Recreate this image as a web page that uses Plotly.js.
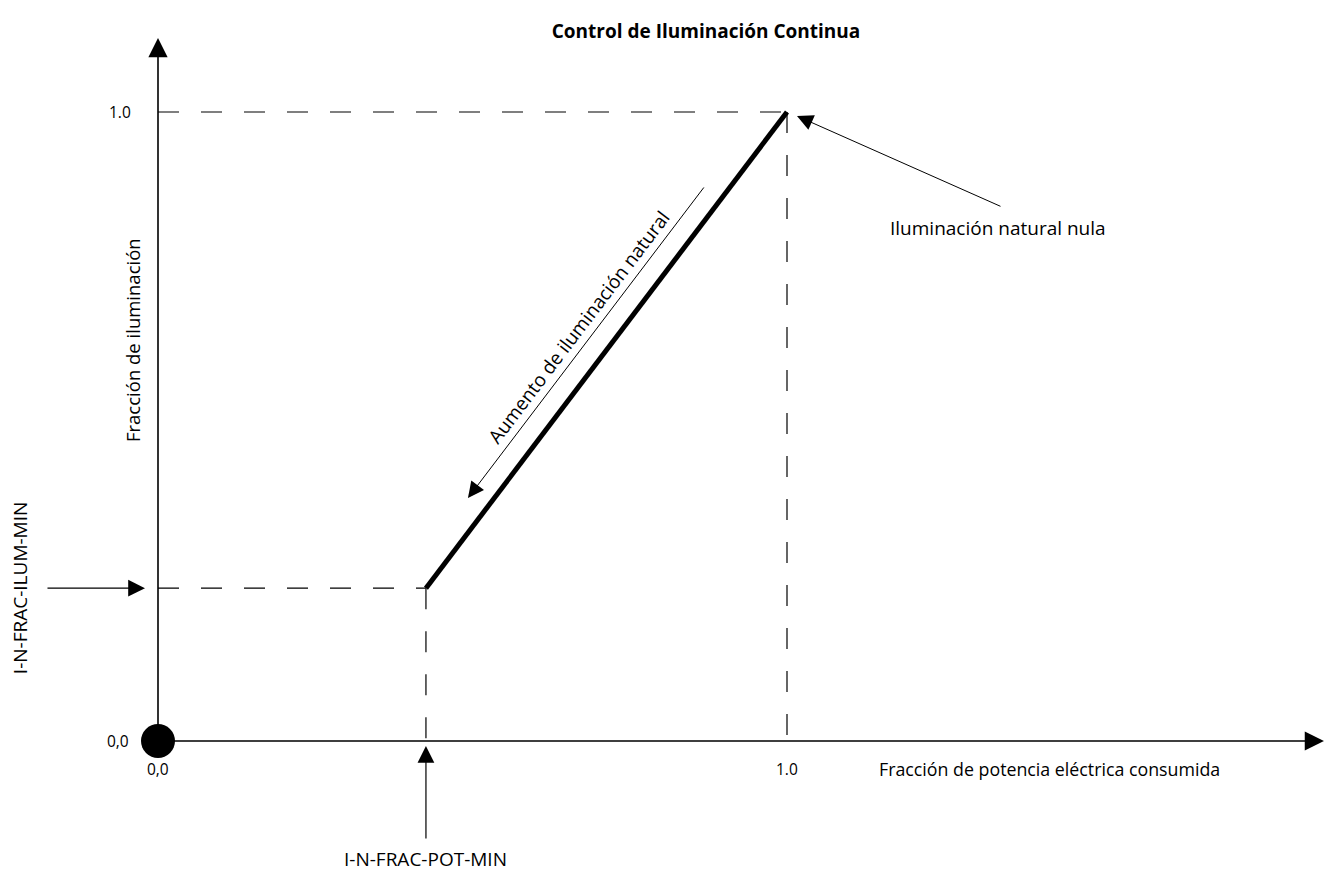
<!DOCTYPE html>
<html>
<head>
<meta charset="utf-8">
<script src="https://cdn.plot.ly/plotly-3.0.1.min.js"></script>
<style>html,body{margin:0;padding:0;background:#fff;}#chart{width:1326px;height:872px;}</style>
</head>
<body>
<div id="chart"></div>
<script>
// Data (fractions)
const potFracMin = 0.426;      // I-N-FRAC-POT-MIN
const ilumFracMin = 0.243;     // I-N-FRAC-ILUM-MIN
const potFracMax = 1.0;
const ilumFracMax = 1.0;
const controlX = [potFracMin, potFracMax];
const controlY = [ilumFracMin, ilumFracMax];
const originX = [0];
const originY = [0];
const tickLabelsY = ['1.0', '0,0'];
const tickLabelsX = ['0,0', '1.0'];

const FONT = 'Open Sans, Noto Sans, sans-serif';
const dashStyle = '21px,22px';

const traces = [
  {x:[0, potFracMax], y:[ilumFracMax, ilumFracMax], mode:'lines', line:{color:'#000', width:1.2, dash:dashStyle}, hoverinfo:'skip', cliponaxis:false},
  {x:[potFracMax, potFracMax], y:[ilumFracMax, 0], mode:'lines', line:{color:'#000', width:1.2, dash:dashStyle}, hoverinfo:'skip', cliponaxis:false},
  {x:[0, potFracMin], y:[ilumFracMin, ilumFracMin], mode:'lines', line:{color:'#000', width:1.2, dash:dashStyle}, hoverinfo:'skip', cliponaxis:false},
  {x:[potFracMin, potFracMin], y:[ilumFracMin, 0], mode:'lines', line:{color:'#000', width:1.2, dash:dashStyle}, hoverinfo:'skip', cliponaxis:false},
  {x:controlX, y:controlY, mode:'lines', line:{color:'#000', width:5}, hoverinfo:'skip', cliponaxis:false},
  {x:originX, y:originY, mode:'markers', marker:{color:'#000', size:34}, hoverinfo:'skip', cliponaxis:false}
];

function arrow(tx, ty, ax, ay, w, size) {
  return {x:tx, y:ty, ax:ax, ay:ay, xref:'x', yref:'y', axref:'x', ayref:'y',
    text:'', showarrow:true, arrowhead:2, arrowsize:size||2.6, arrowwidth:w||1.3, arrowcolor:'#000'};
}
function label(x, y, text, size, opts) {
  return Object.assign({x:x, y:y, xref:'x', yref:'y', text:text, showarrow:false, borderpad:0,
    font:{family:FONT, size:size, color:'#000'}}, opts||{});
}

const annotations = [
  arrow(0, 1.1177, 0, 0, 1.6, 2.4),
  arrow(1.8537, 0, 0, 0, 1.6, 2.4),
  arrow(0.4928, 0.3863, 0.8696, 0.8824, 1.0, 3.2),
  arrow(1.0159, 0.9936, 1.3418, 0.8490, 1.0, 3.2),
  arrow(-0.0207, ilumFracMin, -0.1781, ilumFracMin, 1.2, 2.8),
  arrow(potFracMin, -0.0079, potFracMin, -0.1574, 1.2, 2.8),
  label(0.6693, 0.6582, 'Aumento de iluminación natural', 19, {textangle:-52.8}),
  label(1.3355, 0.8156, 'Iluminación natural nula', 19),
  label(-0.0413, 0.6375, 'Fracción de iluminación', 18.5, {textangle:-90}),
  label(-0.2194, ilumFracMin, 'I-N-FRAC-ILUM-MIN', 19, {textangle:-90}),
  label(potFracMin, -0.1882, 'I-N-FRAC-POT-MIN', 19),
  label(1.4181, -0.0445, 'Fracción de potencia eléctrica consumida', 17.8),
  label(-0.0604, ilumFracMax, tickLabelsY[0], 15.5),
  label(-0.0636, 0, tickLabelsY[1], 15.5),
  label(0, -0.0445, tickLabelsX[0], 15.5),
  label(potFracMax, -0.0445, tickLabelsX[1], 15.5)
];

const layout = {
  width:1326, height:872,
  margin:{l:0, r:0, t:0, b:0},
  paper_bgcolor:'#fff', plot_bgcolor:'#fff',
  showlegend:false,
  title:{text:'<b>Control de Iluminación Continua</b>', x:706/1326, xanchor:'center', y:1-31/872, yanchor:'middle',
    font:{family:FONT, size:19, color:'#000'}},
  xaxis:{range:[-158/629, 1168/629], visible:false, fixedrange:true},
  yaxis:{range:[-131/629, 741/629], visible:false, fixedrange:true},
  annotations:annotations
};

Plotly.newPlot('chart', traces, layout, {displayModeBar:false, staticPlot:true});
</script>
</body>
</html>
